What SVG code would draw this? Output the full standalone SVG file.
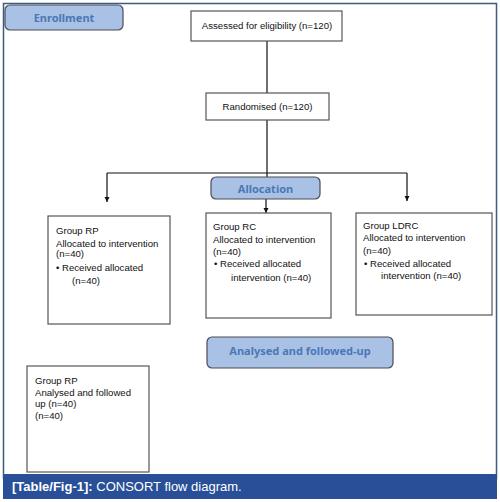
<svg xmlns="http://www.w3.org/2000/svg" width="500" height="502" viewBox="0 0 500 502">
<defs>
<marker id="arr" viewBox="0 0 10 10" refX="10" refY="5" markerWidth="5" markerHeight="6" markerUnits="userSpaceOnUse" orient="auto">
<path d="M0,0 L10,5 L0,10 Z" fill="#111"/>
</marker>
</defs>
<style>
.box{fill:#fff;stroke:#555;stroke-width:1.2}
.hdr{fill:#a9c1e5;stroke:#4a4c55;stroke-width:1.2}
.ht{font-family:"Noto Sans","Open Sans",sans-serif;font-weight:bold;font-size:11px;fill:#4a78b6;text-anchor:middle}
.t{font-family:"Liberation Sans",Arial,sans-serif;font-size:9.6px;fill:#111}
.c{text-anchor:middle}
.ln{stroke:#111;stroke-width:1.2;fill:none}
.cap{font-family:"Liberation Sans",Arial,sans-serif;font-size:13px;fill:#fff}
</style>
<rect width="500" height="502" fill="#fff"/>
<rect x="3.5" y="3.5" width="493" height="475" fill="none" stroke="#3b5b85" stroke-width="1.5"/>
<rect x="3" y="474" width="494" height="25" fill="#284f97"/>
<text class="cap" x="12" y="491"><tspan font-weight="bold">[Table/Fig-1]:</tspan> CONSORT flow diagram.</text>

<g id="connectors">
<line class="ln" x1="267" y1="41" x2="267" y2="93"/>
<line class="ln" x1="267" y1="120" x2="267" y2="177"/>
<line class="ln" x1="107" y1="173" x2="407" y2="173"/>
<line class="ln" x1="107" y1="173" x2="107" y2="202" marker-end="url(#arr)"/>
<line class="ln" x1="407" y1="173" x2="407" y2="201" marker-end="url(#arr)"/>
<line class="ln" x1="266" y1="199" x2="266" y2="213" marker-end="url(#arr)"/>
</g>

<g id="enrollment">
<rect class="hdr" x="5" y="5" width="118" height="25" rx="5"/>
<text class="ht" x="64" y="21.5">Enrollment</text>
</g>
<g id="assessed">
<rect class="box" x="191" y="11" width="151" height="30"/>
<text class="t c" x="267" y="29">Assessed for eligibility (n=120)</text>
</g>
<g id="randomised">
<rect class="box" x="206" y="93" width="123" height="27"/>
<text class="t c" x="267.5" y="110">Randomised (n=120)</text>
</g>
<g id="allocation">
<rect class="hdr" x="211" y="177" width="109" height="22" rx="5"/>
<text class="ht" x="265.5" y="192.5">Allocation</text>
</g>
<g id="group-rp">
<rect class="box" x="48" y="216" width="122" height="108"/>
<text class="t" x="56" y="233.5">Group RP</text>
<text class="t" x="56" y="246.5">Allocated to intervention</text>
<text class="t" x="56" y="257">(n=40)</text>
<text class="t" x="56" y="270.5">• Received allocated</text>
<text class="t" x="72" y="283.5">(n=40)</text>
</g>
<g id="group-rc">
<rect class="box" x="206" y="213" width="125" height="105"/>
<text class="t" x="213" y="229.5">Group RC</text>
<text class="t" x="213" y="242.5">Allocated to intervention</text>
<text class="t" x="213" y="254.5">(n=40)</text>
<text class="t" x="214" y="266.5">• Received allocated</text>
<text class="t" x="231" y="280.5">intervention (n=40)</text>
</g>
<g id="group-ldrc">
<rect class="box" x="356" y="213" width="136" height="102"/>
<text class="t" x="363" y="228.5">Group LDRC</text>
<text class="t" x="363" y="240.5">Allocated to intervention</text>
<text class="t" x="363" y="253.5">(n=40)</text>
<text class="t" x="364" y="266.5">• Received allocated</text>
<text class="t" x="381" y="278.5">intervention (n=40)</text>
</g>
<g id="analysed">
<rect class="hdr" x="207" y="337" width="186" height="31" rx="5"/>
<text class="ht" x="300" y="355">Analysed and followed-up</text>
</g>
<g id="group-rp-analysed">
<rect class="box" x="27" y="366" width="122" height="106"/>
<text class="t" x="35" y="383.5">Group RP</text>
<text class="t" x="35" y="395.5">Analysed and followed</text>
<text class="t" x="35" y="406.5">up (n=40)</text>
<text class="t" x="35" y="418.5">(n=40)</text>
</g>
</svg>
